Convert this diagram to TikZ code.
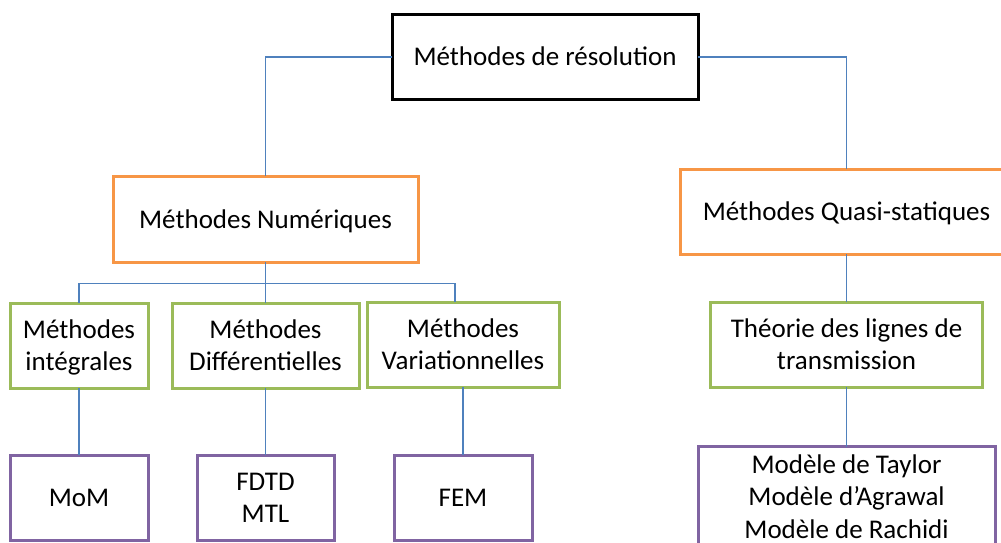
\documentclass[tikz,border=0pt]{standalone}
\usepackage{fontspec}
\setmainfont{Carlito}
\definecolor{linkblue}{HTML}{4F81BD}
\definecolor{boxorange}{HTML}{F79646}
\definecolor{boxgreen}{HTML}{9BBB59}
\definecolor{boxpurple}{HTML}{8064A2}
\newcommand{\ls}{\rule[-7.25pt]{0pt}{32.5pt}}
\begin{document}
\begin{tikzpicture}[x=1pt,y=-1pt,
  every node/.style={inner sep=0pt,outer sep=0pt,align=center,
    font=\fontsize{27}{32.5}\selectfont},
  boxbase/.style={draw,line width=3pt,rectangle,fill=white},
  topbox/.style={boxbase,draw=black},
  orangebox/.style={boxbase,draw=boxorange},
  greenbox/.style={boxbase,draw=boxgreen},
  purplebox/.style={boxbase,draw=boxpurple},
  link/.style={draw=linkblue,line width=1.3pt}]
\useasboundingbox (0,0) rectangle (1001,543);
\clip (0,0) rectangle (1001,543);
\fill[white] (0,0) rectangle (1001,543);
% nodes
\node[topbox,minimum width=306,minimum height=84] (top) at (545,57) {\ls Méthodes de résolution};
\node[orangebox,minimum width=305,minimum height=86] (num) at (265.5,219) {\ls Méthodes Numériques};
\node[orangebox,minimum width=332,minimum height=85] (quasi) at (846.5,211.5) {\ls Méthodes Quasi-statiques};
\node[greenbox,minimum width=138,minimum height=85] (g1) at (79,345.5) {\ls Méthodes\\\ls intégrales};
\node[greenbox,minimum width=187,minimum height=85] (g2) at (265.5,345.5) {\ls Méthodes\\\ls Différentielles};
\node[greenbox,minimum width=192,minimum height=85] (g3) at (463,344.5) {\ls Méthodes\\\ls Variationnelles};
\node[greenbox,minimum width=272,minimum height=85] (g4) at (846.5,344.5) {\ls Théorie des lignes de\\\ls transmission};
\node[purplebox,minimum width=138,minimum height=85] (p1) at (79,497.5) {\ls MoM};
\node[purplebox,minimum width=137,minimum height=85] (p2) at (265.5,497.5) {\ls FDTD\\\ls MTL};
\node[purplebox,minimum width=138,minimum height=85] (p3) at (463,497.5) {\ls FEM};
\node[purplebox,minimum width=297,minimum height=100] (p4) at (846.5,496.5) {\ls Modèle de Taylor\\\ls Modèle d’Agrawal\\\ls Modèle de Rachidi};
% connectors
\coordinate (bus) at (265.5,283.5);
\path[link] (top.west) -| (num.north);
\path[link] (top.east) -| (quasi.north);
\path[link] (num.south) -- (bus);
\path[link] (g1.north) |- (bus) -| ([xshift=-8pt]g3.north);
\path[link] (bus) -- (g2.north);
\path[link] (g1.south) -- (p1.north);
\path[link] (g2.south) -- (p2.north);
\path[link] (g3.south) -- (p3.north);
\path[link] (quasi.south) -- (g4.north);
\path[link] (g4.south) -- (p4.north);
\end{tikzpicture}
\end{document}
